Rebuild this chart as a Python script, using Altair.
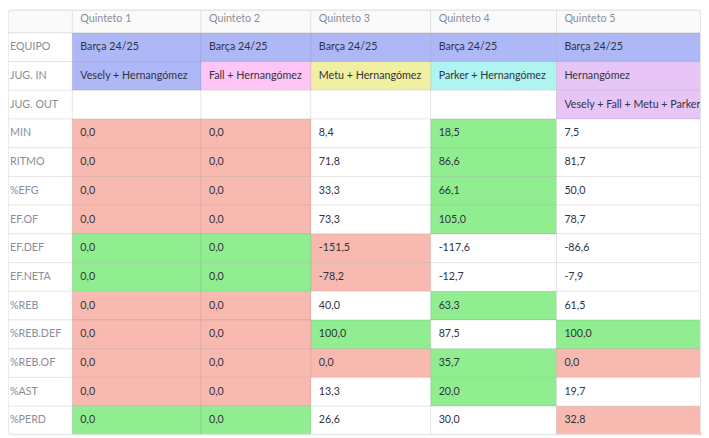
import altair as alt
import pandas as pd

# ---------------- data ----------------
columns = ["Quinteto 1", "Quinteto 2", "Quinteto 3", "Quinteto 4", "Quinteto 5"]
row_labels = ["EQUIPO", "JUG. IN", "JUG. OUT", "MIN", "RITMO", "%EFG", "EF.OF",
              "EF.DEF", "EF.NETA", "%REB", "%REB.DEF", "%REB.OF", "%AST", "%PERD"]

equipo = ["Barça 24/25"] * 5
jug_in = ["Vesely + Hernangómez", "Fall + Hernangómez", "Metu + Hernangómez",
          "Parker + Hernangómez", "Hernangómez"]
jug_out = ["", "", "", "", "Vesely + Fall + Metu + Parker"]
equipo_group = ["team", "team", "team", "team", "team"]
jug_in_group = ["team", "q2", "q3", "q4", "q5"]
jug_out_group = ["none", "none", "none", "none", "q5"]

stat_values = {
    "MIN":      [0.0, 0.0, 8.4, 18.5, 7.5],
    "RITMO":    [0.0, 0.0, 71.8, 86.6, 81.7],
    "%EFG":     [0.0, 0.0, 33.3, 66.1, 50.0],
    "EF.OF":    [0.0, 0.0, 73.3, 105.0, 78.7],
    "EF.DEF":   [0.0, 0.0, -151.5, -117.6, -86.6],
    "EF.NETA":  [0.0, 0.0, -78.2, -12.7, -7.9],
    "%REB":     [0.0, 0.0, 40.0, 63.3, 61.5],
    "%REB.DEF": [0.0, 0.0, 100.0, 87.5, 100.0],
    "%REB.OF":  [0.0, 0.0, 0.0, 35.7, 0.0],
    "%AST":     [0.0, 0.0, 13.3, 20.0, 19.7],
    "%PERD":    [0.0, 0.0, 26.6, 30.0, 32.8],
}
stat_flags = {
    "MIN":      ["low", "low", "none", "high", "none"],
    "RITMO":    ["low", "low", "none", "high", "none"],
    "%EFG":     ["low", "low", "none", "high", "none"],
    "EF.OF":    ["low", "low", "none", "high", "none"],
    "EF.DEF":   ["high", "high", "low", "none", "none"],
    "EF.NETA":  ["high", "high", "low", "none", "none"],
    "%REB":     ["low", "low", "none", "high", "none"],
    "%REB.DEF": ["low", "low", "high", "none", "high"],
    "%REB.OF":  ["low", "low", "low", "high", "low"],
    "%AST":     ["low", "low", "none", "high", "none"],
    "%PERD":    ["high", "high", "none", "none", "low"],
}

# ---------------- layout / style ----------------
col_widths = [71, 130, 111, 121, 127, 146]   # index column + 5 data columns
row_h = 29
table_left, table_top = 2, 2                  # reference page coords
page_margin = 8
W, H = 700, 429
FONT = "Lato"
FS = 10.8

fill_domain = ["header", "index", "none", "team", "q2", "q3", "q4", "q5", "high", "low"]
fill_range = ["#fafafb", "#ffffff", "#ffffff", "#aeb8f6", "#fdc6f4", "#f1efa2",
              "#b0f4ef", "#e7c5f6", "#90ee90", "#f8bab0"]
text_domain = ["label", "value"]
text_range = ["#8a8d99", "#31333f"]

def fmt(v):
    return f"{v:.1f}".replace(".", ",")

edges = [table_left]
for w in col_widths:
    edges.append(edges[-1] + w)

cells = []
def add(ci, ri, text, fill, kind):
    x0, x1 = edges[ci], edges[ci + 1]
    y0 = table_top + ri * row_h
    y1 = y0 + row_h
    cells.append(dict(x0=max(x0, page_margin), x1=x1, y0=max(y0, page_margin), y1=y1,
                      tx=max(x0 + 8, page_margin + 2), ty=y0 + row_h / 2,
                      text=text, fill=fill, kind=kind))

add(0, 0, "", "header", "label")
for j, c in enumerate(columns):
    add(j + 1, 0, c, "header", "label")

body = [("EQUIPO", equipo, equipo_group), ("JUG. IN", jug_in, jug_in_group),
        ("JUG. OUT", jug_out, jug_out_group)]
for lab in row_labels[3:]:
    body.append((lab, [fmt(v) for v in stat_values[lab]], stat_flags[lab]))

for i, (lab, vals, flags) in enumerate(body):
    ri = i + 1
    add(0, ri, lab, "index", "label")
    for j in range(5):
        add(j + 1, ri, vals[j], flags[j], "value")

df = pd.DataFrame(cells)

xs = alt.Scale(domain=[page_margin, page_margin + W], range=[0, W])
ys = alt.Scale(domain=[page_margin, page_margin + H], range=[0, H])

rects = alt.Chart(df).mark_rect(stroke="#000000", strokeOpacity=0.075, strokeWidth=1).encode(
    x=alt.X("x0:Q", scale=xs, axis=None),
    x2="x1:Q",
    y=alt.Y("y0:Q", scale=ys, axis=None),
    y2="y1:Q",
    fill=alt.Fill("fill:N", scale=alt.Scale(domain=fill_domain, range=fill_range), legend=None),
)

texts = alt.Chart(df).mark_text(align="left", baseline="middle", font=FONT, fontSize=FS).encode(
    x=alt.X("tx:Q", scale=xs, axis=None),
    y=alt.Y("ty:Q", scale=ys, axis=None),
    text="text:N",
    color=alt.Color("kind:N", scale=alt.Scale(domain=text_domain, range=text_range), legend=None),
)

frame_df = pd.DataFrame([dict(x0=page_margin, x1=page_margin + W - 0.5,
                              y0=page_margin, y1=page_margin + H - 0.5)])
frame = alt.Chart(frame_df).mark_rect(fill=None, stroke="#e2e3e8", strokeWidth=1, cornerRadius=5).encode(
    x=alt.X("x0:Q", scale=xs, axis=None), x2="x1:Q",
    y=alt.Y("y0:Q", scale=ys, axis=None), y2="y1:Q",
)

chart = alt.layer(rects, texts, frame).properties(
    width=W, height=H, padding=0,
    autosize=alt.AutoSizeParams(type="none"),
).configure_view(stroke=None)

chart.save("out.html", embed_options={"renderer": "svg", "actions": False})
